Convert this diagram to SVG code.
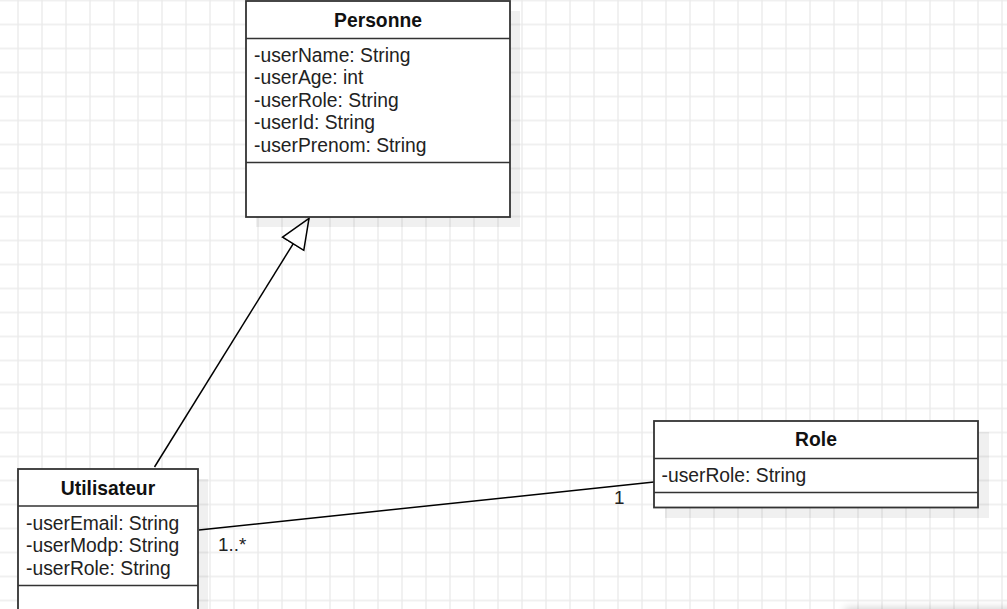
<svg xmlns="http://www.w3.org/2000/svg" width="1007" height="609" viewBox="0 0 1007 609">
<defs>
<pattern id="grid" x="17" y="-0.5" width="24" height="24" patternUnits="userSpaceOnUse">
<path d="M1 0V24M0 1H24" stroke="#ebebeb" stroke-width="1.4" fill="none"/>
</pattern>
<marker id="inherit" markerUnits="userSpaceOnUse" viewBox="0 0 32 28" markerWidth="32" markerHeight="28" refX="31" refY="14" orient="auto">
<path d="M1 1.5L31 14L1 26.5Z" fill="#fff" stroke="#000" stroke-width="1.5" stroke-linejoin="miter"/>
</marker>
<filter id="blur" x="-20%" y="-200%" width="140%" height="500%"><feGaussianBlur stdDeviation="4"/></filter>
<style>
.box{fill:#fff;stroke:#333;stroke-width:1.8}
.div{stroke:#333;stroke-width:1.6;fill:none}
.shadow{fill:#000;fill-opacity:0.06}
.title{font-family:"Liberation Sans",Arial,sans-serif;font-size:19.3px;font-weight:bold;fill:#111;text-anchor:middle}
.attr{font-family:"Liberation Sans",Arial,sans-serif;font-size:19.3px;fill:#222}
.lbl{font-family:"Liberation Sans",Arial,sans-serif;font-size:18.8px;fill:#222}
.edge{stroke:#000;stroke-width:1.5;fill:none}
</style>
</defs>
<rect width="1007" height="609" fill="#fff"/>
<rect width="1007" height="609" fill="url(#grid)"/>
<rect x="845" y="608" width="200" height="20" fill="#000" opacity="0.18" filter="url(#blur)"/>

<g id="connectors">
<path class="edge" d="M154.5 467L309 218.3" marker-end="url(#inherit)"/>
<path class="edge" d="M199 530L654 482"/>
<text class="lbl" x="218" y="551">1..*</text>
<text class="lbl" x="614" y="504">1</text>
</g>

<g id="Personne">
<rect class="shadow" x="256" y="11" width="264" height="216"/>
<rect class="box" x="246" y="1" width="264" height="216"/>
<path class="div" d="M246 38.5H510M246 162.5H510"/>
<text class="title" x="378" y="27.3">Personne</text>
<text class="attr" x="254" y="61.5">-userName: String</text>
<text class="attr" x="254" y="84">-userAge: int</text>
<text class="attr" x="254" y="106.5">-userRole: String</text>
<text class="attr" x="254" y="129">-userId: String</text>
<text class="attr" x="254" y="151.5">-userPrenom: String</text>
</g>

<g id="Utilisateur">
<rect class="shadow" x="28" y="479" width="180" height="150"/>
<rect class="box" x="18" y="469" width="180" height="160"/>
<path class="div" d="M18 506H198M18 585.5H198"/>
<text class="title" x="108" y="495">Utilisateur</text>
<text class="attr" x="26" y="529.5">-userEmail: String</text>
<text class="attr" x="26" y="552">-userModp: String</text>
<text class="attr" x="26" y="574.5">-userRole: String</text>
</g>

<g id="Role">
<rect class="shadow" x="665" y="432" width="324" height="86"/>
<rect class="box" x="654" y="421" width="324" height="86.5"/>
<path class="div" d="M654 458.5H978M654 492.5H978"/>
<text class="title" x="816" y="446">Role</text>
<text class="attr" x="661.5" y="481.5">-userRole: String</text>
</g>
</svg>
